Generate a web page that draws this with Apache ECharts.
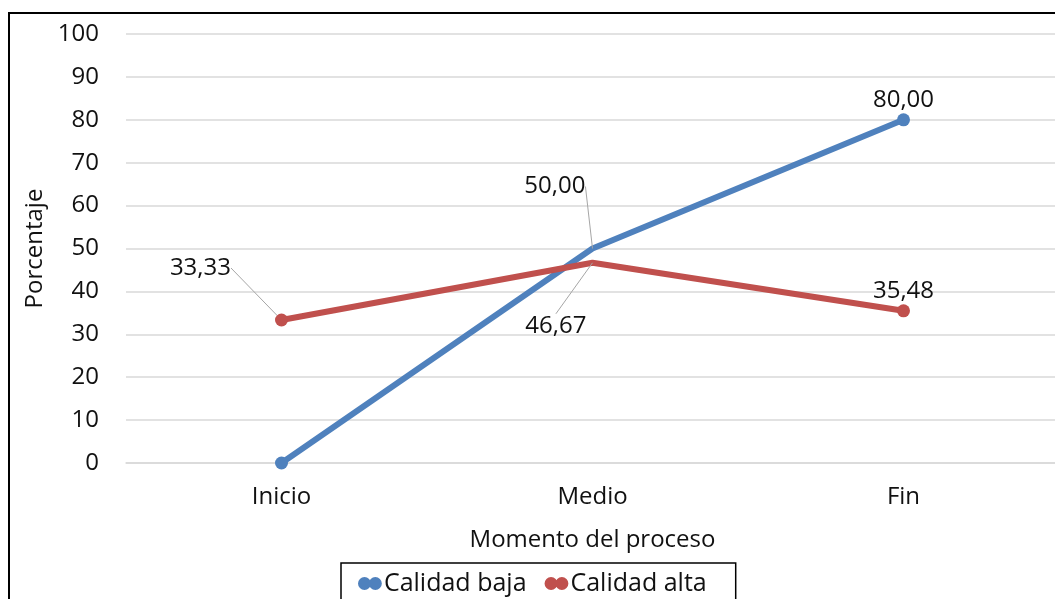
<!DOCTYPE html>
<html>
<head>
<meta charset="utf-8">
<script src="https://cdn.jsdelivr.net/npm/echarts@6/dist/echarts.min.js"></script>
<style>
  html, body { margin: 0; padding: 0; background: #fff; overflow: hidden; }
  /* canvas a bit wider than the window: the plot runs past the right edge */
  #chart { width: 1063px; height: 599px; }
</style>
</head>
<body>
<div id="chart"></div>
<script>
const categories = ['Inicio', 'Medio', 'Fin'];
const calidadBaja = [0, 50.00, 80.00];
const calidadAlta = [33.33, 46.67, 35.48];
const yTicks = { min: 0, max: 100, interval: 10 };

var chart = echarts.init(document.getElementById('chart'));

const FONT = '"Open Sans", "Noto Sans", sans-serif';
const TXT = '#111';

// which point gets a marker (Excel only kept ends)
const showMarker = [true, false, true];

// label offsets for the series, by data index
const bajaLabels = [
  null,
  { position: 'left', dx: -6, dy: -62, line: true },
  { position: 'top', dx: 0, dy: 0, line: false },
];
const altaLabels = [
  { position: 'left', dx: -43, dy: -52, line: true },
  { position: 'left', dx: -5, dy: 63, line: true },
  { position: 'top', dx: 0, dy: 0, line: false },
];

const buildData = (values, labels) =>
  values.map((v, i) => ({
    value: v,
    symbolSize: showMarker[i] ? 13 : 0.1,
    label: labels[i]
      ? { show: true, position: labels[i].position }
      : { show: false },
    labelLine: { show: !!(labels[i] && labels[i].line) },
  }));

const layoutFrom = (labels) => (params) => {
  const l = labels[params.dataIndex];
  if (!l) return {};
  return { dx: l.dx, dy: l.dy };
};

// two dots, like the excel legend marker
const dotsIcon = 'path://M0,6a6,6 0 1,0 12,0a6,6 0 1,0 -12,0 M10,6a6,6 0 1,0 12,0a6,6 0 1,0 -12,0';

const labelStyle = {
  color: TXT,
  fontSize: 24,
  fontFamily: FONT,
  distance: 1,
  formatter: (p) => p.value.toFixed(2).replace('.', ','),
};

const option = {
  animation: false,
  backgroundColor: '#fff',
  textStyle: { fontFamily: FONT },
  graphic: [
    {
      type: 'rect',
      shape: { x: 9, y: 13, width: 1200, height: 800 },
      style: { fill: 'none', stroke: '#000', lineWidth: 2 },
      z: 100,
    },
  ],
  grid: { left: 126, top: 34, right: 4, bottom: 136 },
  xAxis: {
    type: 'category',
    data: categories,
    boundaryGap: true,
    axisLine: { show: true, lineStyle: { color: '#d9d9d9', width: 1.5 } },
    axisTick: { show: false },
    axisLabel: { color: TXT, fontSize: 24, fontFamily: FONT, margin: 22 },
    name: 'Momento del proceso',
    nameLocation: 'middle',
    nameGap: 65,
    nameTextStyle: { color: TXT, fontSize: 24, fontFamily: FONT },
  },
  yAxis: {
    type: 'value',
    min: yTicks.min,
    max: yTicks.max,
    interval: yTicks.interval,
    axisLine: { show: false },
    axisTick: { show: false },
    splitLine: { lineStyle: { color: '#d9d9d9', width: 1.5 } },
    axisLabel: { color: TXT, fontSize: 24, fontFamily: FONT, margin: 27 },
    name: 'Porcentaje',
    nameLocation: 'middle',
    nameRotate: 90,
    nameGap: 72,
    nameTextStyle: { color: TXT, fontSize: 24, fontFamily: FONT },
  },
  legend: {
    left: 341,
    top: 563,
    itemWidth: 26,
    itemHeight: 13,
    itemGap: 18,
    padding: [8, 29, 8, 17],
    borderColor: '#000',
    borderWidth: 1.5,
    textStyle: { color: TXT, fontSize: 25, fontFamily: FONT, padding: [0, 0, 0, -4] },
    data: [
      { name: 'Calidad baja', icon: dotsIcon },
      { name: 'Calidad alta', icon: dotsIcon },
    ],
  },
  series: [
    {
      name: 'Calidad baja',
      type: 'line',
      symbol: 'circle',
      data: buildData(calidadBaja, bajaLabels),
      lineStyle: { color: '#4f81bd', width: 6 },
      itemStyle: { color: '#4f81bd' },
      label: labelStyle,
      labelLine: { lineStyle: { color: '#a6a6a6', width: 1 } },
      labelLayout: layoutFrom(bajaLabels),
    },
    {
      name: 'Calidad alta',
      type: 'line',
      symbol: 'circle',
      data: buildData(calidadAlta, altaLabels),
      lineStyle: { color: '#c0504d', width: 6 },
      itemStyle: { color: '#c0504d' },
      label: labelStyle,
      labelLine: { lineStyle: { color: '#a6a6a6', width: 1 } },
      labelLayout: layoutFrom(altaLabels),
    },
  ],
};
chart.setOption(option);
</script>
</body>
</html>
